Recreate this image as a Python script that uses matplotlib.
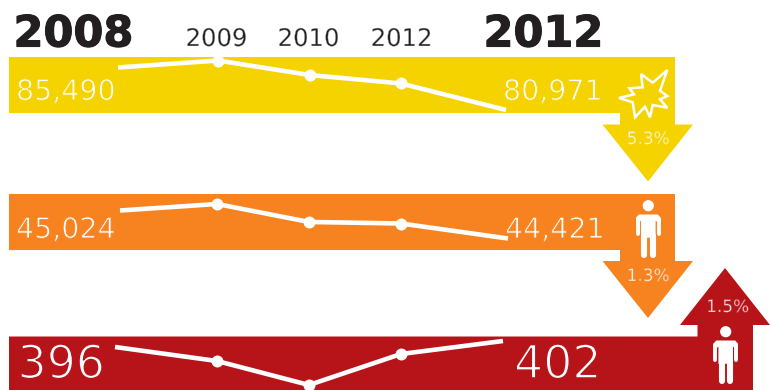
import numpy as np
import matplotlib
matplotlib.use("Agg")
import matplotlib.pyplot as plt
import matplotlib.patheffects as pe
from matplotlib.patches import Polygon, Circle

# Yearly counts per category
tick_labels = ["2008", "2009", "2010", "2012", "2012"]
accidents = [85490, 86232, 84695, 83790, 80971]
injuries = [45024, 45164, 44777, 44744, 44421]
deaths = [396, 382, 358, 389, 402]
changes = ["5.3%", "1.3%", "1.5%"]

YELLOW = "#F5D300"
ORANGE = "#F78320"
RED = "#B7141A"
INK = "#231F20"
W, H = 771, 390

fig = plt.figure(figsize=(W / 100, H / 100), dpi=100)
base = fig.add_axes([0, 0, 1, 1])
base.set_xlim(0, W)
base.set_ylim(H, 0)
base.axis("off")


def light_text(x, y, s, size, color, behind, ha="left", erode=0.7):
    """Text whose strokes are thinned by an outline in the background colour."""
    t = base.text(x, y, s, family="DejaVu Sans", fontsize=size, color=color, ha=ha,
                  va="baseline", zorder=5)
    t.set_path_effects([pe.Normal(), pe.Stroke(linewidth=erode, foreground=behind)])
    return t


def arrow_down(color, top, bottom, head, tip):
    pts = [(9, top), (675, top), (675, head), (693, head), (648, tip),
           (602.5, head), (620, head), (620, bottom), (9, bottom)]
    base.add_patch(Polygon(pts, closed=True, fc=color, ec="none", zorder=1))


arrow_down(YELLOW, 57, 113, 124.5, 181.5)
arrow_down(ORANGE, 194, 250, 261, 318)
base.add_patch(Polygon([(9, 336.5), (697.5, 336.5), (697.5, 325), (680, 325), (725, 268),
                        (770, 325), (753, 325), (753, 391), (9, 391)],
                       closed=True, fc=RED, ec="none", zorder=1))


def person(cx, y):
    """White pictogram of a standing figure, y being the centre of the head."""
    base.add_patch(Circle((cx, y), 5.6, fc="white", ec="none", zorder=3))
    body = [(cx - 9.5, y + 8.8), (cx + 9.5, y + 8.8), (cx + 12.3, y + 12), (cx + 12.3, y + 16),
            (cx + 8.6, y + 16), (cx + 7.3, y + 15), (cx + 7.3, y + 32), (cx - 7.3, y + 32),
            (cx - 7.3, y + 15), (cx - 8.6, y + 16), (cx - 12.3, y + 16), (cx - 12.3, y + 12)]
    base.add_patch(Polygon(body, closed=True, fc="white", ec="none", zorder=3))
    for side in (-1, 1):
        base.plot([cx + side * 10.4] * 2, [y + 13, y + 28.5], color="white", lw=2.8,
                  solid_capstyle="round", zorder=3)
        base.plot([cx + side * 4.2] * 2, [y + 30, y + 49.2], color="white", lw=4.4,
                  solid_capstyle="round", zorder=3)


person(648.3, 205.7)
person(725.7, 331.7)

# Collision burst on the accidents band
burst = [(667.3, 70), (652.7, 82.7), (641, 74), (642.7, 87.3), (629.3, 88.3), (634, 94.3),
         (619, 98), (632.7, 102.3), (635, 117.3), (645, 106.7), (650, 117.3), (652.7, 105),
         (667.3, 107.7), (660, 99.3), (667.3, 96), (660, 90.7)]
base.add_patch(Polygon(burst, closed=True, fc=YELLOW, ec="white", lw=1.8,
                       joinstyle="miter", zorder=3))


def series_axes(values, stops, y_first, y_last):
    """Overlay axes whose limits tie the first and last values to the band."""
    left, right = stops[0], stops[-1]
    low = max(y_first, y_last)
    high = min(y_first, y_last)
    ax = fig.add_axes([left / W, 1 - low / H, (right - left) / W, (low - high) / H])
    ax.patch.set_alpha(0)
    ax.axis("off")
    steps = np.arange(5)
    spacing = np.asarray(stops, dtype=float)
    ax.set_xscale("function", functions=(lambda v: np.interp(v, steps, spacing),
                                         lambda v: np.interp(v, spacing, steps)))
    ax.set_xlim(0, 4)
    ax.set_ylim(min(values[0], values[-1]), max(values[0], values[-1]))
    ax.plot(steps, values, color="white", lw=3.3, solid_capstyle="butt", clip_on=False,
            marker="o", ms=8.6, mew=0, markevery=[1, 2, 3], zorder=4)


series_axes(accidents, [118, 218, 309.5, 401, 506], 67.5, 110)
series_axes(injuries, [120, 217, 309, 401, 508], 210.5, 238.5)
series_axes(deaths, [115, 217, 309, 401, 503], 347, 341)

# Headline years and the intermediate year labels
for label, x in ((tick_labels[0], 13.5), (tick_labels[4], 483.5)):
    t = base.text(x, 46.5, label, family="DejaVu Sans", weight="bold", fontsize=31,
                  color=INK, ha="left", zorder=5)
    t.set_path_effects([pe.withStroke(linewidth=0.8, foreground=INK)])
for label, cx in zip(tick_labels[1:4], [216.5, 308.5, 401.5]):
    light_text(cx, 46, label, 17.5, INK, "white", ha="center", erode=0.3)

# Band totals
light_text(16, 100, f"{accidents[0]:,}", 20.5, "white", YELLOW)
light_text(503, 100, f"{accidents[-1]:,}", 20.5, "white", YELLOW)
light_text(16, 238, f"{injuries[0]:,}", 20.5, "white", ORANGE)
light_text(505, 238, f"{injuries[-1]:,}", 20.5, "white", ORANGE)
light_text(17.5, 378, f"{deaths[0]}", 33, "white", RED, erode=1.1)
light_text(514, 378, f"{deaths[-1]}", 33, "white", RED, erode=1.1)

# Percentage change inside each arrow head
for text, cx, y, shade in zip(changes, [648, 648, 727.5], [144, 281, 312], [YELLOW, ORANGE, RED]):
    light_text(cx, y, text, 12.2, "white", shade, ha="center", erode=0.4)

fig.savefig("out.png", dpi=100)
